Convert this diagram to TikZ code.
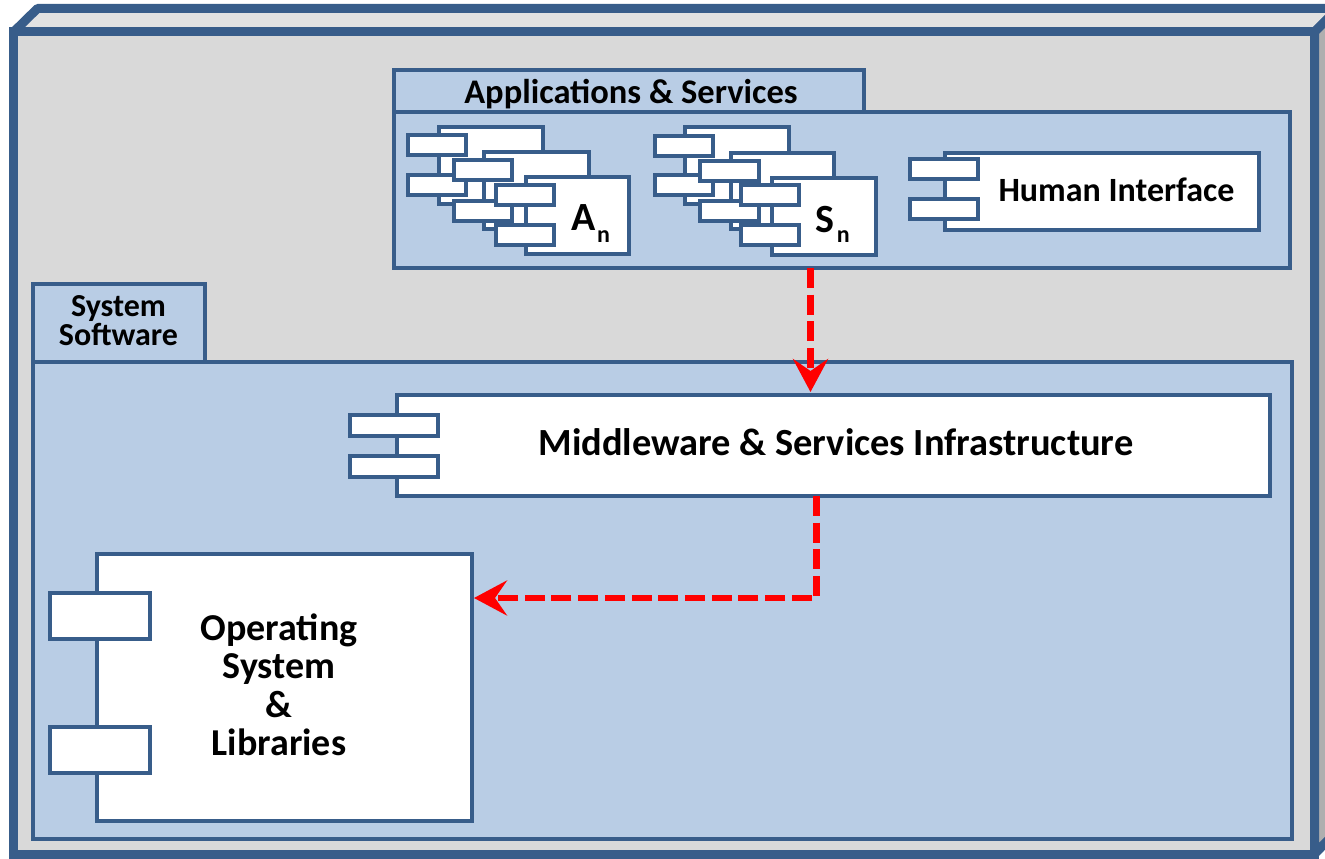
\documentclass[tikz,border=0pt]{standalone}
\usepackage{fontspec}
\setmainfont{Carlito}
\usetikzlibrary{arrows.meta}
\definecolor{bord}{HTML}{385D8A}
\definecolor{lblue}{HTML}{B9CDE5}
\definecolor{gfront}{HTML}{D9D9D9}
\definecolor{gtop}{HTML}{E2E2E2}
\definecolor{gside}{HTML}{AFAFAF}
\definecolor{arrred}{HTML}{FF0000}
\newcommand\fs[2]{\fontsize{#1}{#2}\selectfont}
\newcommand\tightls{\lineskiplimit=-100pt\relax}
\newcommand\rbox[6]{\node[#1, minimum width=#5pt, minimum height=#6pt] (#2) at (#3,#4) {};}
\begin{document}
\begin{tikzpicture}[x=1pt,y=-1pt,
  box/.style={draw=bord, line width=3.3pt, inner sep=0pt, outer sep=0pt, anchor=north west, line join=miter},
  comp/.style={box, fill=white},
  pkg/.style={box, fill=lblue},
  face/.style={draw=bord, line width=9pt, line join=bevel},
  txt/.style={inner sep=0pt, outer sep=0pt, text=black},
  arr/.style={draw=arrred, line width=6.7pt, dash pattern=on 20pt off 6.7pt,
     -{Stealth[length=33pt,width=35pt,inset=12pt]}}]
\useasboundingbox (0,0) rectangle (1325,859);
\clip (0,0) rectangle (1325,859);
% outer 3D box
\draw[face, fill=gtop] (13.5,32) -- (37.5,8.5) -- (1338,8.5) -- (1314.5,32) -- cycle;
\draw[face, fill=gside] (1314.5,32) -- (1338,8.5) -- (1338,830) -- (1314.5,854) -- cycle;
\node[box, line width=9pt, fill=gfront, minimum width=1301pt, minimum height=822pt] (frame) at (13.5,32) {};
% packages
\rbox{pkg}{apptab}{394}{70}{470}{42}
\rbox{pkg}{apps}{394}{112}{896}{156}
\rbox{pkg}{systab}{33}{284}{172}{78}
\rbox{pkg}{sys}{33}{362}{1259}{477}
% A_n stack
\rbox{comp}{a1}{439}{127}{104}{77}
\rbox{comp}{a1p}{408}{135}{58}{20}
\rbox{comp}{a1q}{408}{175}{58}{20}
\rbox{comp}{a2}{484}{152}{105}{77}
\rbox{comp}{a2p}{454}{160}{58}{20}
\rbox{comp}{a2q}{454}{201}{58}{20}
\rbox{comp}{a3}{526}{177}{103}{77}
\rbox{comp}{a3p}{496}{185}{58}{20}
\rbox{comp}{a3q}{496}{225}{58}{20}
% S_n stack
\rbox{comp}{s1}{685}{127}{104}{77}
\rbox{comp}{s1p}{655}{136}{58}{20}
\rbox{comp}{s1q}{655}{175}{58}{20}
\rbox{comp}{s2}{731}{153}{103}{76}
\rbox{comp}{s2p}{700}{161}{59}{20}
\rbox{comp}{s2q}{700}{201}{59}{20}
\rbox{comp}{s3}{772}{178}{104}{77}
\rbox{comp}{s3p}{741}{185}{58}{20}
\rbox{comp}{s3q}{741}{225}{58}{20}
% Human interface
\rbox{comp}{hi}{945}{153}{314}{77}
\rbox{comp}{hip}{910}{159}{68}{20}
\rbox{comp}{hiq}{910}{199}{68}{20}
% Middleware
\rbox{comp}{mw}{397}{395}{873}{101}
\rbox{comp}{mwp}{350}{415}{88}{21}
\rbox{comp}{mwq}{350}{456}{88}{21}
% OS
\rbox{comp}{os}{97}{554}{375}{267}
\rbox{comp}{osp}{50}{593}{100}{46}
\rbox{comp}{osq}{50}{727}{100}{46}
% texts
\node[txt, anchor=base, font=\bfseries\fs{34.5}{40}] (apptxt) at (631,103) {Applications \& Services};
\node[txt, align=center, font=\bfseries\fs{32}{29.5}\tightls] (systxt) at (118.5,320.5) {System\\Software};
\node[txt, anchor=base, font=\bfseries\fs{34}{40}] (hitxt) at (1116.5,201) {Human Interface};
\node[txt, anchor=base, font=\bfseries\fs{38.4}{44}] (mwtxt) at (836,455) {Middleware \& Services Infrastructure};
\node[txt, align=center, font=\bfseries\fs{38}{38.5}] (ostxt) at (279,685) {Operating\\System\\\&\\Libraries};
\node[txt, anchor=base west, font=\bfseries\fs{40}{42}] (atxt) at (571,230) {A\kern2pt\raisebox{-12pt}{\fs{24}{26}n}};
\node[txt, anchor=base west, font=\bfseries\fs{40}{42}] (stxt) at (815,232) {S\kern3pt\raisebox{-10pt}{\fs{24}{26}n}};
% connectors
\coordinate (ax) at (810.5,0);
\coordinate (bx) at (816.5,0);
\coordinate (by) at (0,598);
\draw[arr, shorten >=3pt] (apps.south -| ax) -- (mw.north -| ax);
\draw[arr, shorten >=2pt] (mw.south -| bx) |- (os.east |- by);
\end{tikzpicture}
\end{document}
